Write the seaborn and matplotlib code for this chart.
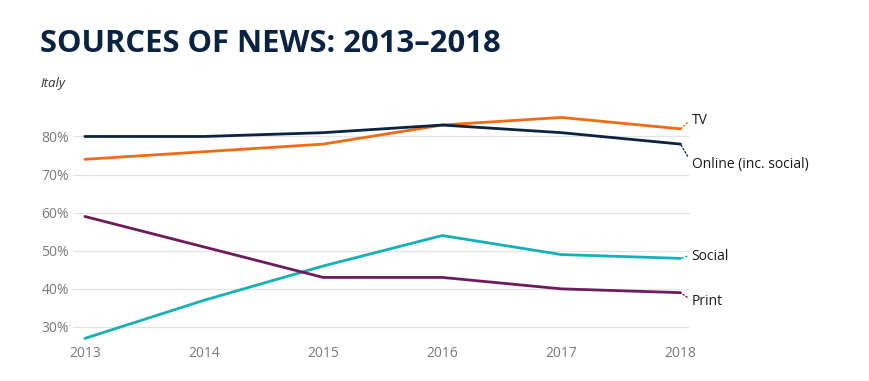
import pandas as pd
import matplotlib.pyplot as plt
import seaborn as sns

years = [2013, 2014, 2015, 2016, 2017, 2018]
online = [80, 80, 81, 83, 81, 78]
tv = [74, 76, 78, 83, 85, 82]
social = [27, 37, 46, 54, 49, 48]
printed = [59, 51, 43, 43, 40, 39]

series_names = ["TV", "Online (inc. social)", "Social", "Print"]
colors = {"TV": "#f26b12", "Online (inc. social)": "#0b2343",
          "Social": "#14b1b9", "Print": "#6f1a5e"}
label_offsets = {"TV": (8, 6), "Online (inc. social)": (8, -14.5),
                 "Social": (8, 1.5), "Print": (8, -6.5)}

df = pd.DataFrame({"year": years, "TV": tv, "Online (inc. social)": online,
                   "Social": social, "Print": printed})
long_df = df.melt(id_vars="year", var_name="source", value_name="share")

sns.set_style("white")
plt.rcParams["font.family"] = ["Open Sans", "DejaVu Sans"]

fig = plt.figure(figsize=(8.69, 3.81), dpi=100)
ax = fig.add_axes([73 / 869, 1 - 346 / 381, (690 - 73) / 869, (346 - 106) / 381])

sns.lineplot(data=long_df, x="year", y="share", hue="source",
             hue_order=series_names, palette=colors, linewidth=2, ax=ax, legend=False)

ax.set_xlim(2012.9, 2018.08)
ax.set_ylim(25, 88)
ax.set_yticks([30, 40, 50, 60, 70, 80])
ax.set_yticklabels([f"{v}%" for v in [30, 40, 50, 60, 70, 80]])
ax.set_xticks(years)
ax.grid(axis="y", color="#e3e3e3", linewidth=0.9)
ax.set_axisbelow(True)
for s in ax.spines.values():
    s.set_visible(False)
ax.tick_params(axis="both", length=0, labelsize=10, labelcolor="#7a7a7a")
ax.tick_params(axis="y", pad=3)
ax.tick_params(axis="x", pad=0)
ax.set_xlabel("")
ax.set_ylabel("")

for name in series_names:
    last = df[name].iloc[-1]
    ax.annotate(name, xy=(years[-1], last), xytext=label_offsets[name],
                textcoords="offset points", ha="left", va="center",
                fontsize=10, color="#1a1a1a", annotation_clip=False,
                arrowprops=dict(arrowstyle="-", linestyle=":", color=colors[name],
                                linewidth=1, shrinkA=1, shrinkB=0, relpos=(0, 0.6)))

fig.text(40 / 869, 1 - 44 / 381, "SOURCES OF NEWS: 2013\u20132018", fontsize=22.3,
         fontweight="bold", color="#0b2343", va="center", ha="left")
fig.text(40 / 869, 1 - 83 / 381, "Italy", fontsize=9.5, style="italic",
         color="#333333", va="center", ha="left")

fig.savefig("out.png", dpi=100)
